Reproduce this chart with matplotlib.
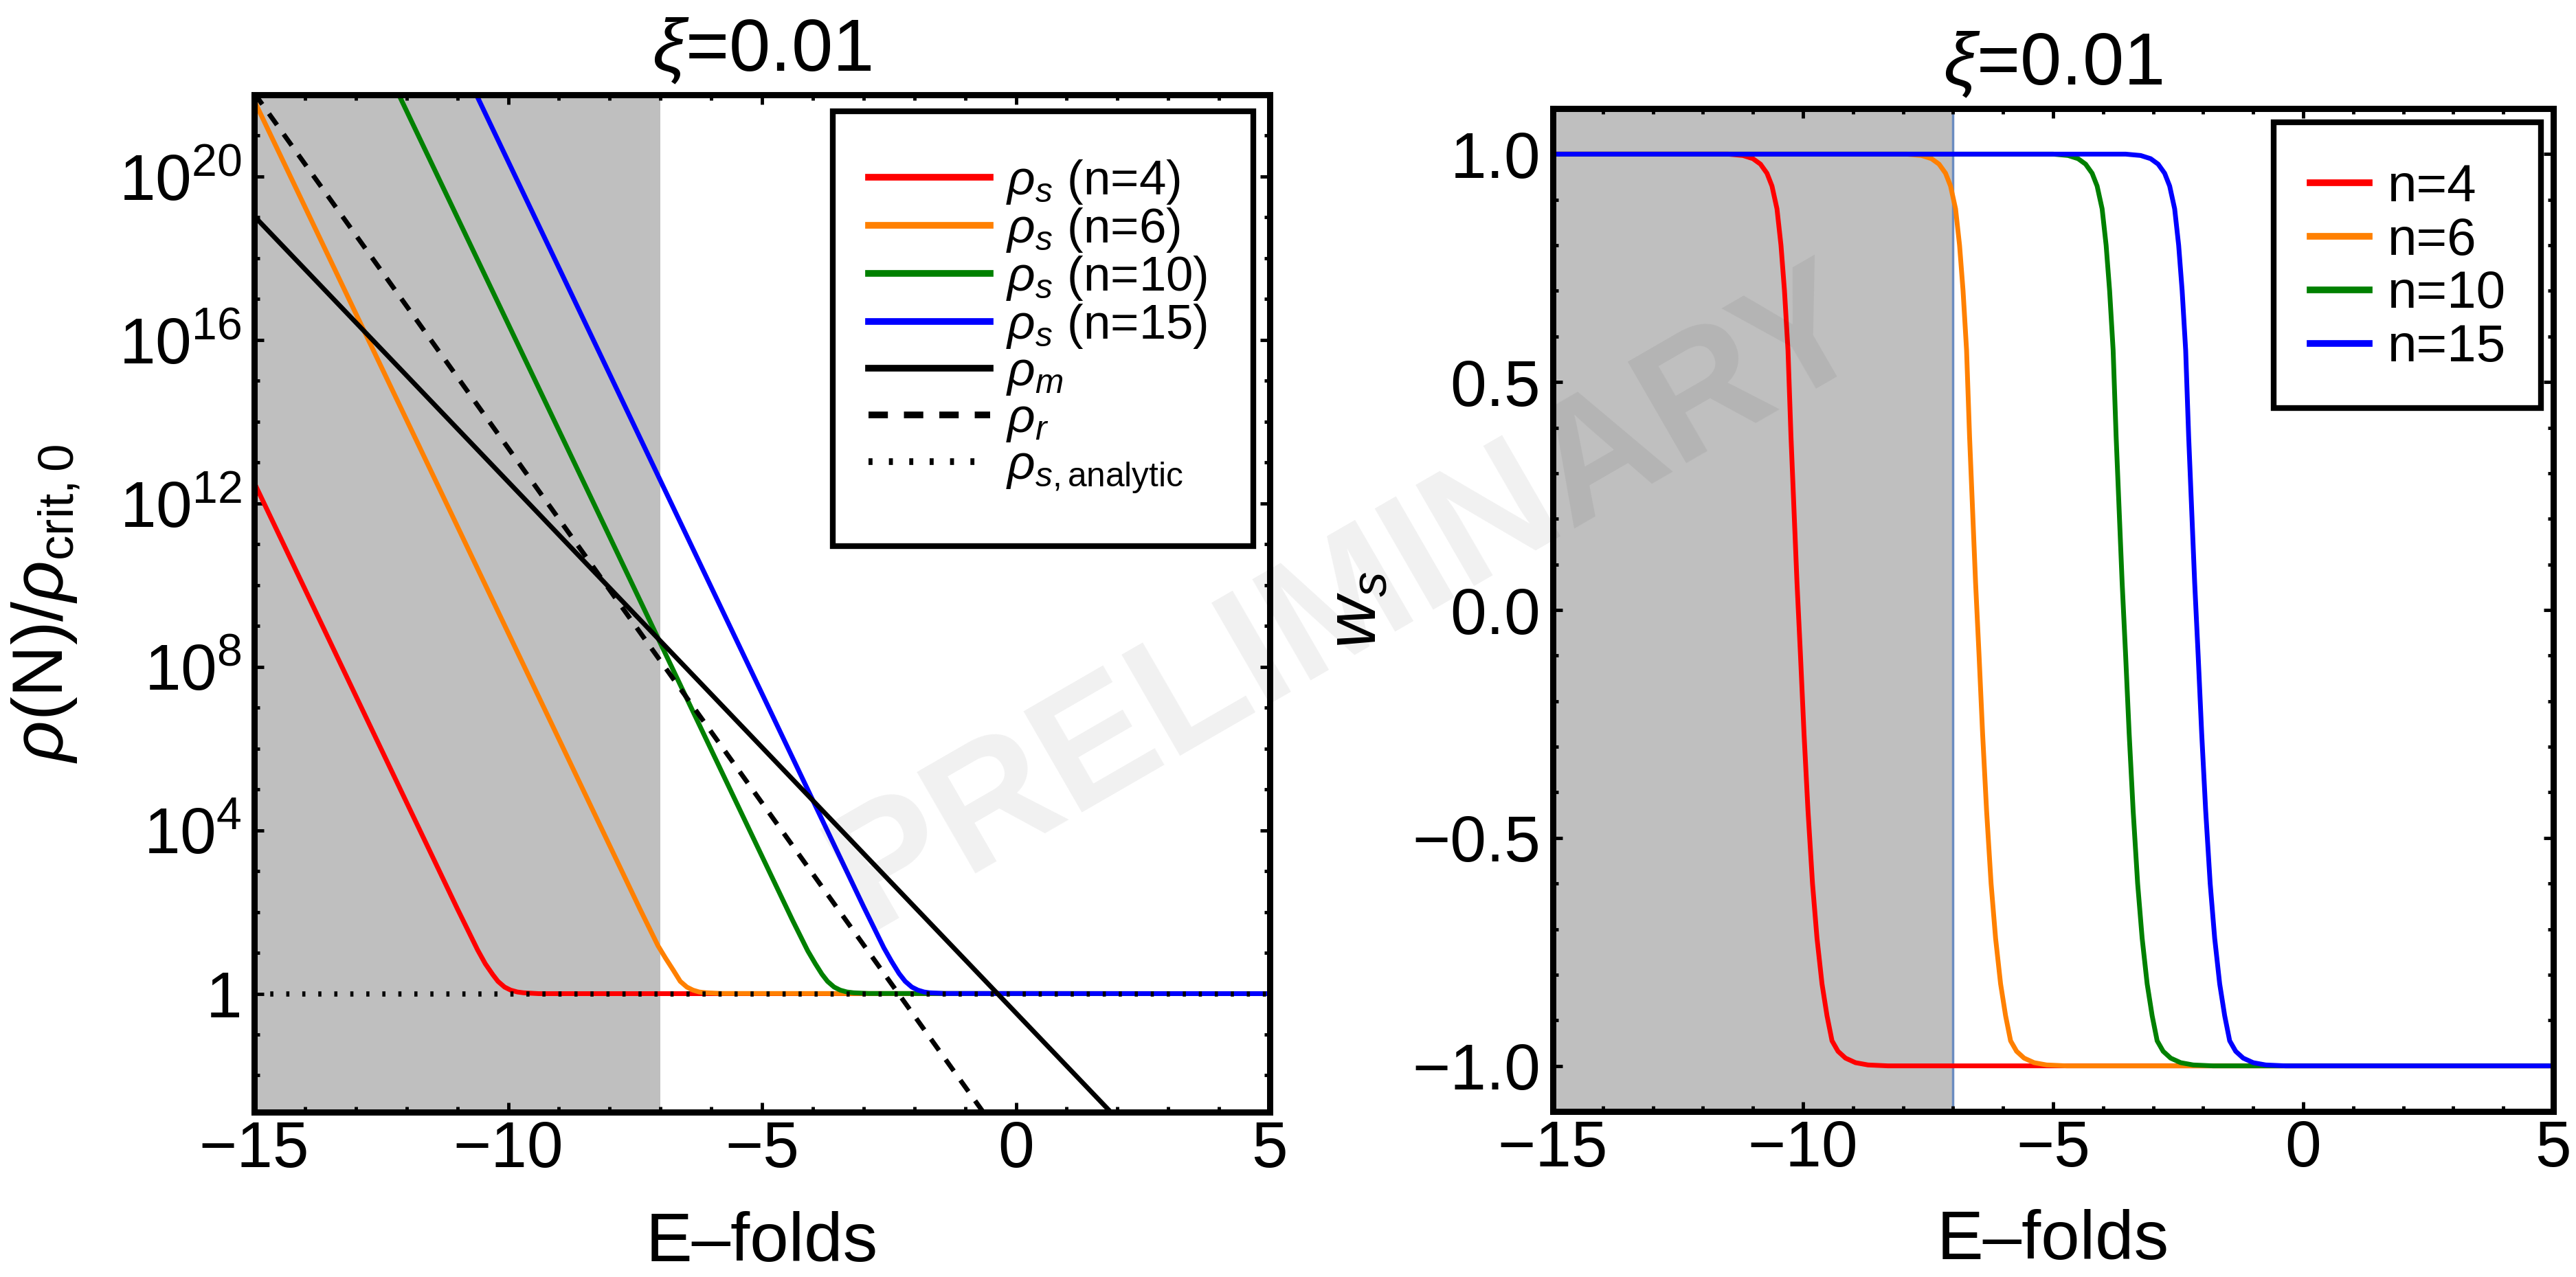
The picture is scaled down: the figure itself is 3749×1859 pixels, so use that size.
import matplotlib
matplotlib.use("Agg")
import matplotlib.pyplot as plt
from matplotlib.ticker import FixedLocator, FixedFormatter, MultipleLocator, NullFormatter
from matplotlib.patches import Rectangle

# ---- values (E-folds N vs. density / w_s) ----
N_RHO_M = [-15.0, 2.0]
RHO_M = [1.07e19, 8.5e-4]

N_RHO_R = [-15.0, 0.5]
RHO_R = [1.1e22, 1.3e-5]

N_ANALYTIC = [-15.0, 5.0]
RHO_ANALYTIC = [1.0, 1.0]

N_S4 = [-15.0, -12.0, -11.0, -10.6, -10.45, -10.3, -10.2, -10.07, -9.95, -9.82, -9.7, -9.4, 5.0]
RHO_S4 = [3.2e12, 4.8e4, 1.2e2, 11.7, 5.4, 2.9, 2.0, 1.45, 1.22, 1.1, 1.05, 1.0, 1.0]

N_S6 = [-15.0, -9.0, -8.0, -7.4, -7.05, -6.9, -6.75, -6.61, -6.48, -6.36, -6.24, -6.1, -5.8, 5.0]
RHO_S6 = [7.2e21, 1.7e6, 4.2e3, 1.15e2, 15.0, 7.4, 3.8, 2.0, 1.45, 1.22, 1.1, 1.05, 1.01, 1.0]

N_S10 = [-12.5, -6.0, -5.0, -4.4, -4.1, -3.95, -3.82, -3.71, -3.58, -3.46, -3.33, -3.2, -2.9, 5.0]
RHO_S10 = [8.1e22, 9.3e5, 2.3e3, 63.0, 11.2, 5.4, 3.0, 2.0, 1.45, 1.22, 1.1, 1.05, 1.01, 1.0]

N_S15 = [-11.0, -5.0, -3.5, -3.0, -2.6, -2.45, -2.3, -2.18, -2.05, -1.93, -1.81, -1.7, -1.4, 5.0]
RHO_S15 = [9.5e22, 2.2e7, 2.7e3, 1.35e2, 13.2, 6.2, 3.1, 2.0, 1.45, 1.22, 1.1, 1.05, 1.01, 1.0]

W_LEVELS = [1.0, 1.0, 0.997, 0.99, 0.978, 0.958, 0.93, 0.88, 0.8, 0.7,
            0.57, 0.38, 0.22, 0.06, -0.1, -0.27, -0.44, -0.6, -0.72, -0.82,
            -0.89, -0.945, -0.968, -0.983, -0.993, -0.998, -1.0, -1.0]

N_W4 = [-15.0, -11.5, -11.2, -11.0, -10.85, -10.72, -10.62, -10.52, -10.44, -10.37,
        -10.3, -10.24, -10.18, -10.12, -10.05, -9.98, -9.9, -9.81, -9.72, -9.62,
        -9.52, -9.42, -9.3, -9.15, -8.95, -8.7, -8.3, 5.0]
W4 = W_LEVELS

N_W6 = [-15.0, -7.93, -7.63, -7.43, -7.28, -7.15, -7.05, -6.95, -6.87, -6.8,
        -6.73, -6.67, -6.61, -6.55, -6.48, -6.41, -6.33, -6.24, -6.15, -6.05,
        -5.95, -5.85, -5.73, -5.58, -5.38, -5.13, -4.73, 5.0]
W6 = W_LEVELS

N_W10 = [-15.0, -5.0, -4.7, -4.5, -4.35, -4.22, -4.12, -4.02, -3.94, -3.87,
         -3.8, -3.74, -3.68, -3.62, -3.55, -3.48, -3.4, -3.31, -3.22, -3.12,
         -3.02, -2.92, -2.8, -2.65, -2.45, -2.2, -1.8, 5.0]
W10 = W_LEVELS

N_W15 = [-15.0, -3.55, -3.25, -3.05, -2.9, -2.77, -2.67, -2.57, -2.49, -2.42,
         -2.35, -2.29, -2.23, -2.17, -2.1, -2.03, -1.95, -1.86, -1.77, -1.67,
         -1.57, -1.47, -1.35, -1.2, -1.0, -0.75, -0.35, 5.0]
W15 = W_LEVELS

N_LABELS = ["4", "6", "10", "15"]
COLORS = ["#ff0000", "#ff8000", "#008000", "#0000ff"]

LOG_TICKS = [1e0, 1e4, 1e8, 1e12, 1e16, 1e20]
LOG_TICK_LABELS = ["1", "$10^{4}$", "$10^{8}$", "$10^{12}$", "$10^{16}$", "$10^{20}$"]
W_TICKS = [-1.0, -0.5, 0.0, 0.5, 1.0]
W_TICK_LABELS = ["\u22121.0", "\u22120.5", "0.0", "0.5", "1.0"]
X_TICKS = [-15, -10, -5, 0, 5]
X_TICK_LABELS = ["\u221215", "\u221210", "\u22125", "0", "5"]

# ---- style ----
W_PX, H_PX = 3749, 1859
plt.rcParams.update({
    'font.family': ['Liberation Sans', 'DejaVu Sans'],
    'mathtext.fontset': 'custom',
    'mathtext.rm': 'Liberation Sans',
    'mathtext.it': 'Liberation Sans:italic',
    'mathtext.bf': 'Liberation Sans:bold',
    'axes.unicode_minus': True,
})

LW = 5.0
SHADE = '#bfbfbf'


def fx(px):
    return px / W_PX


def fy(py):
    return 1 - py / H_PX


def style_axes(ax):
    for s in ax.spines.values():
        s.set_linewidth(6.5)
    ax.tick_params(which='both', direction='in', top=True, right=True,
                   labelsize=68, width=3.5)
    ax.tick_params(which='major', length=10)
    ax.tick_params(which='minor', length=5.5)
    ax.tick_params(axis='x', which='both', pad=8)
    ax.tick_params(axis='y', which='both', pad=13)
    ax.xaxis.set_major_locator(FixedLocator(X_TICKS))
    ax.xaxis.set_major_formatter(FixedFormatter(X_TICK_LABELS))
    ax.xaxis.set_minor_locator(MultipleLocator(1))
    ax.set_xlim(-15, 5)
    ax.set_xlabel("E\u2013folds", fontsize=73)
    ax.xaxis.set_label_coords(0.5, -0.097)
    ax.set_title(r"$\xi$=0.01", fontsize=78, pad=25)


fig = plt.figure(figsize=(W_PX / 100, H_PX / 100), dpi=100)
ax1 = fig.add_axes([fx(370), fy(1619), fx(1848) - fx(370), fy(138) - fy(1619)])
ax2 = fig.add_axes([fx(2260), fy(1618), fx(3716) - fx(2260), fy(158) - fy(1618)])

# ---- left: densities ----
ax1.axvspan(-15, -7, color=SHADE, lw=0, zorder=0)
rho_series = [(N_S4, RHO_S4), (N_S6, RHO_S6), (N_S10, RHO_S10), (N_S15, RHO_S15)]
handles = []
for (n, r), c, lab in zip(rho_series, COLORS, N_LABELS):
    h, = ax1.plot(n, r, color=c, lw=LW, label=r"$\rho_s$ (n=%s)" % lab)
    handles.append(h)
h, = ax1.plot(N_RHO_M, RHO_M, color='black', lw=LW, label=r"$\rho_m$")
handles.append(h)
h, = ax1.plot(N_RHO_R, RHO_R, color='black', lw=LW, dashes=(2.9, 2.4), label=r"$\rho_r$")
handles.append(h)
h, = ax1.plot(N_ANALYTIC, RHO_ANALYTIC, color='black', lw=5.5, dashes=(0.6, 2.45),
              dash_capstyle='butt', label=r"$\rho_{s,\mathrm{analytic}}$")
handles.append(h)

ax1.set_yscale('log')
ax1.set_ylim(10 ** -2.9, 1e22)
ax1.yaxis.set_major_locator(FixedLocator(LOG_TICKS))
ax1.yaxis.set_major_formatter(FixedFormatter(LOG_TICK_LABELS))
ax1.yaxis.set_minor_locator(FixedLocator([10.0 ** k for k in range(-2, 23)]))
ax1.yaxis.set_minor_formatter(NullFormatter())
style_axes(ax1)
ax1.set_ylabel(r"$\rho(\mathrm{N})/\rho_{\mathrm{crit,0}}$", fontsize=75)
ax1.yaxis.set_label_coords(-0.17, 0.5)

fig.add_artist(Rectangle((fx(1212), fy(795)), fx(1824) - fx(1212), fy(162) - fy(795),
                         transform=fig.transFigure, fill=True, facecolor='white',
                         edgecolor='black', lw=6, zorder=5))
leg1 = fig.legend(handles=handles, loc='center left',
                  bbox_to_anchor=(fx(1264), fy(475)), bbox_transform=fig.transFigure,
                  frameon=False, fontsize=51, handlelength=2.5, handletextpad=0.33,
                  labelspacing=0.0, borderpad=0, borderaxespad=0)
leg1.set_zorder(6)
for ln in leg1.get_lines():
    ln.set_linewidth(7)

# ---- right: equation of state ----
ax2.axvspan(-15, -7, color=SHADE, lw=0, zorder=0)
ax2.axvline(-7, color='#6b8cc0', lw=2.5, zorder=1)
w_series = [(N_W4, W4), (N_W6, W6), (N_W10, W10), (N_W15, W15)]
whandles = []
for (n, w), c, lab in zip(w_series, COLORS, N_LABELS):
    h, = ax2.plot(n, w, color=c, lw=LW, label="n=%s" % lab)
    whandles.append(h)
ax2.set_ylim(-1.1, 1.1)
ax2.yaxis.set_major_locator(FixedLocator(W_TICKS))
ax2.yaxis.set_major_formatter(FixedFormatter(W_TICK_LABELS))
ax2.yaxis.set_minor_locator(MultipleLocator(0.1))
style_axes(ax2)
ax2.set_ylabel(r"$w_s$", fontsize=75)
ax2.yaxis.set_label_coords(-0.162, 0.5)

fig.add_artist(Rectangle((fx(3309), fy(594)), fx(3698) - fx(3309), fy(178) - fy(594),
                         transform=fig.transFigure, fill=True, facecolor='white',
                         edgecolor='black', lw=6, zorder=5))
leg2 = fig.legend(handles=whandles, loc='center left',
                  bbox_to_anchor=(fx(3362), fy(390)), bbox_transform=fig.transFigure,
                  frameon=False, fontsize=55, handlelength=1.12, handletextpad=0.36,
                  labelspacing=0.09, borderpad=0, borderaxespad=0)
leg2.set_zorder(6)
for ln in leg2.get_lines():
    ln.set_linewidth(7)

# watermark
fig.text(fx(1963), fy(875), "PRELIMINARY", fontsize=178, fontweight='bold',
         color='black', alpha=0.06, rotation=30, ha='center', va='center',
         rotation_mode='anchor', zorder=10)

fig.savefig("out.png", dpi=100, facecolor='white')
